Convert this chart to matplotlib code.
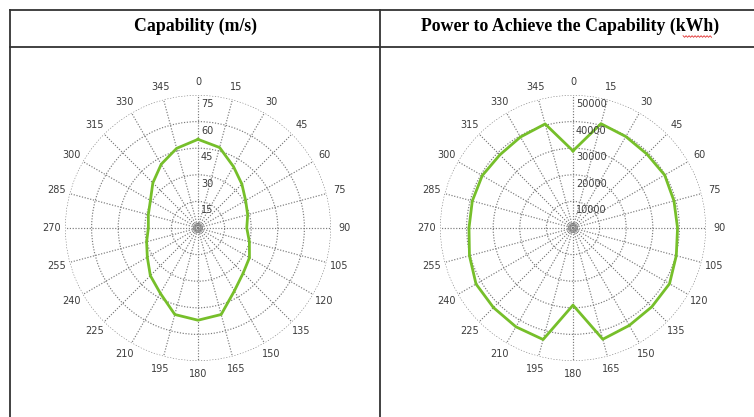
import matplotlib
matplotlib.use("Agg")
import matplotlib.pyplot as plt
import matplotlib.transforms as mtransforms
from matplotlib.lines import Line2D
import numpy as np

# Heading bearings (degrees, clockwise from north)
bearings = list(range(0, 360, 15))

# Achievable speed at each bearing (m/s)
capability_ms = [50, 47, 40, 35, 31, 29, 27.5, 30, 33.5, 36, 41, 50.5,
                 52, 50.5, 42.5, 38, 33, 30, 28, 29, 31, 36, 41.5, 46.5]

# Energy needed to reach that capability (kWh)
power_kwh = [29000, 40600, 39700, 39300, 39800, 39300, 39300, 40200,
             41900, 41900, 42300, 43300, 29000, 43400, 42900, 42300,
             42100, 40300, 39100, 39200, 39400, 38900, 39500, 40500]

capability_rings = [15, 30, 45, 60, 75]
power_rings = [10000, 20000, 30000, 40000, 50000]

headers = ["Capability (m/s)", "Power to Achieve the Capability (kWh)"]

W, H = 754, 417
fig = plt.figure(figsize=(W / 100, H / 100), dpi=100)
fig.patch.set_facecolor("white")

GREEN = "#76bf2a"
GRID = "#7a7a7a"
LABEL = "#3c3c3c"
DOTS = (0, (1, 1.4))


def px_rect(cx, cy, r):
    return [(cx - r) / W, (H - cy - r) / H, 2 * r / W, 2 * r / H]


def polar_panel(rect, values, rings):
    rmax = rings[-1]
    ax = fig.add_axes(rect, projection="polar")
    ax.set_theta_zero_location("N")
    ax.set_theta_direction(-1)
    ax.set_ylim(0, rmax)
    ax.patch.set_alpha(0)

    ax.set_xticks(np.deg2rad(bearings))
    ax.set_xticklabels([])
    ax.set_yticks(rings)
    ax.set_yticklabels([])
    ax.grid(True, color=GRID, linestyle=DOTS, linewidth=0.85)
    ax.spines["polar"].set_visible(False)
    ax.tick_params(length=0)

    # small hub rings at the pole
    hub = np.linspace(0, 2 * np.pi, 60)
    for frac in (0.018, 0.035):
        ax.plot(hub, np.full_like(hub, rmax * frac), color=GRID,
                linewidth=0.6)

    theta = np.deg2rad(bearings + [bearings[0]])
    ax.plot(theta, list(values) + [values[0]], color=GREEN, linewidth=2.0,
            zorder=5, clip_on=False)

    for b in bearings:
        ax.text(np.deg2rad(b), rmax * 1.098, str(b), ha="center", va="center",
                fontsize=7, color=LABEL, clip_on=False)

    shifted = mtransforms.offset_copy(ax.transData, fig=fig, x=3, y=-4,
                                      units="dots")
    for v in rings:
        ax.text(0, v, str(v), transform=shifted, ha="left", va="top",
                fontsize=7, color=LABEL, zorder=6)
    return ax


polar_panel(px_rect(198, 228, 133), capability_ms, capability_rings)
polar_panel(px_rect(573, 228, 133), power_kwh, power_rings)


# Table frame
def fig_line(x0, y0, x1, y1):
    fig.add_artist(Line2D([x0 / W, x1 / W], [1 - y0 / H, 1 - y1 / H],
                          color="#333333", linewidth=1.3,
                          transform=fig.transFigure))


fig_line(10, 10, W, 10)
fig_line(10, 47, W, 47)
fig_line(10, 10, 10, H)
fig_line(380, 10, 380, H)

fig.text(196 / W, 1 - 26.5 / H, headers[0], ha="center", va="center",
         fontsize=12.8, fontweight="bold", family="Liberation Serif")
t2 = fig.text(570 / W, 1 - 26.5 / H, headers[1], ha="center", va="center",
              fontsize=12.8, fontweight="bold", family="Liberation Serif")

# Spell-check squiggle under the unit
fig.canvas.draw()
bb = t2.get_window_extent()
x_end = bb.x1 - 6
x_start = x_end - 30
xs = np.arange(x_start, x_end, 1.5)
ys = (H - 36.5) + 0.8 * np.where(np.arange(len(xs)) % 2 == 0, 1, -1)
fig.add_artist(Line2D(xs / W, ys / H, color="#e03030", linewidth=0.6,
                      transform=fig.transFigure))

fig.savefig("out.png", dpi=100, facecolor="white")
